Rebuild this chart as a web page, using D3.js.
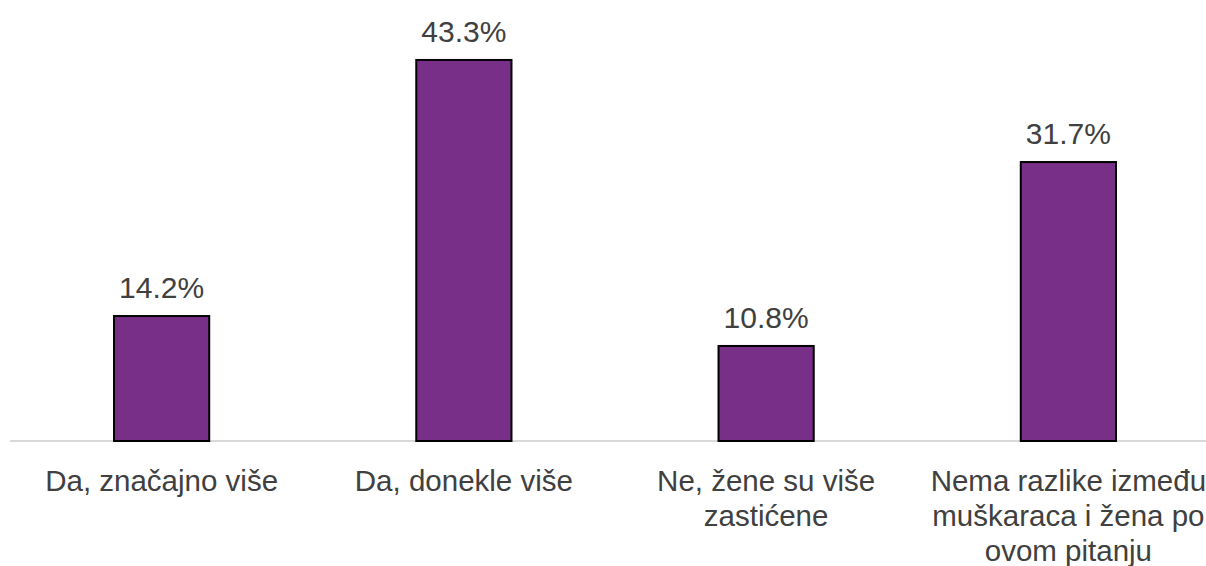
<!DOCTYPE html>
<html lang="hr">
<head>
<meta charset="UTF-8">
<title>D3</title>
<script src="https://d3js.org/d3.v7.min.js"></script>
<style>
  body { margin: 0; background: #fff; overflow: hidden; }
  text { font-family: "Liberation Sans", Arial, sans-serif; fill: #404040; }
</style>
</head>
<body>
<div class="canvas"></div>
<script>
  const categories = [
    ['Da, značajno više'],
    ['Da, donekle više'],
    ['Ne, žene su više', 'zastićene'],
    ['Nema razlike između', 'muškaraca i žena po', 'ovom pitanju']
  ]
  const values = [14.2, 43.3, 10.8, 31.7]

  const width = 1206, height = 566
  const baseline = 441

  const svg = d3.select('.canvas')
    .append('svg')
    .attr('width', width)
    .attr('height', height)
    .style('display', 'block')

  const x = d3.scaleBand()
    .domain(d3.range(values.length))
    .range([10.5, 1219.5])
    .paddingInner(0.685)
    .paddingOuter(0.3425)

  const y = d3.scaleLinear()
    .domain([0, 50])
    .range([baseline, 1])

  // axis line
  svg.append('line')
    .attr('x1', 10).attr('x2', 1219.5)
    .attr('y1', baseline).attr('y2', baseline)
    .attr('stroke', '#d9d9d9')
    .attr('stroke-width', 2)

  svg.selectAll('.bar')
    .data(values)
    .enter()
    .append('rect')
    .attr('class', 'bar')
    .attr('x', (d, i) => x(i))
    .attr('y', d => y(d))
    .attr('width', x.bandwidth())
    .attr('height', d => baseline - y(d))
    .attr('fill', '#772f87')
    .attr('stroke', '#000')
    .attr('stroke-width', 2)

  svg.selectAll('.val')
    .data(values)
    .enter()
    .append('text')
    .attr('class', 'val')
    .attr('x', (d, i) => x(i) + x.bandwidth() / 2)
    .attr('y', d => y(d) - 18)
    .attr('text-anchor', 'middle')
    .style('font-size', '30px')
    .text(d => d.toFixed(1) + '%')

  const labels = svg.selectAll('.lab')
    .data(categories)
    .enter()
    .append('text')
    .attr('class', 'lab')
    .attr('text-anchor', 'middle')
    .style('font-size', '29.5px')

  labels.selectAll('tspan')
    .data((d, i) => d.map(t => ({ t, i })))
    .enter()
    .append('tspan')
    .attr('x', d => x(d.i) + x.bandwidth() / 2)
    .attr('y', (d, j) => 491 + j * 35)
    .text(d => d.t)
</script>
</body>
</html>
